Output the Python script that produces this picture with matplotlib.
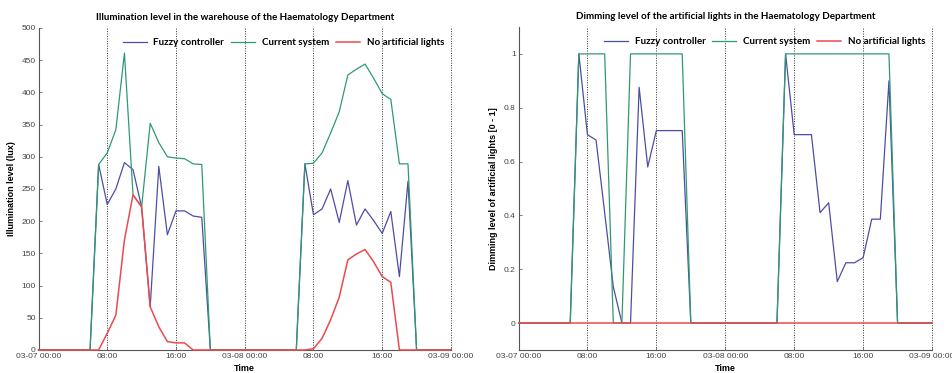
import matplotlib
matplotlib.use("Agg")
import matplotlib.pyplot as plt
import numpy as np

# hours since 03-07 00:00, hourly samples
hours = list(range(49))

tick_pos = [0, 8, 16, 24, 32, 40, 48]
tick_labels = ["03-07 00:00", "08:00", "16:00", "03-08 00:00",
               "08:00", "16:00", "03-09 00:00"]
series_names = ["Fuzzy controller", "Current system", "No artificial lights"]

# illumination (lux)
lux_fuzzy = [0, 0, 0, 0, 0, 0, 0, 288, 226, 250, 291, 280, 222, 67, 285, 179,
             216, 216, 208, 206, 0, 0, 0, 0,
             0, 0, 0, 0, 0, 0, 0, 289, 210, 219, 250, 198, 263, 194, 219, 201,
             181, 215, 114, 262, 0, 0, 0, 0, 0]
lux_current = [0, 0, 0, 0, 0, 0, 0, 288, 306, 342, 461, 241, 222, 352, 322, 300,
               298, 297, 289, 288, 0, 0, 0, 0,
               0, 0, 0, 0, 0, 0, 0, 289, 290, 306, 337, 370, 427, 436, 444, 422,
               398, 389, 289, 289, 0, 0, 0, 0, 0]
lux_natural = [0, 0, 0, 0, 0, 0, 0, 0, 26, 54, 171, 241, 222, 67, 36, 13,
               11, 11, 0, 0, 0, 0, 0, 0,
               0, 0, 0, 0, 0, 0, 0, 0, 2, 18, 47, 82, 140, 149, 156, 137,
               114, 105, 0, 0, 0, 0, 0, 0, 0]

# dimming level [0 - 1]
dim_fuzzy = [0, 0, 0, 0, 0, 0, 0, 1, 0.70, 0.68, 0.41, 0.135, 0, 0, 0.876, 0.58,
             0.715, 0.715, 0.715, 0.715, 0, 0, 0, 0,
             0, 0, 0, 0, 0, 0, 0, 1, 0.70, 0.70, 0.70, 0.41, 0.447, 0.154, 0.224, 0.224,
             0.243, 0.386, 0.386, 0.90, 0, 0, 0, 0, 0]
dim_current = [0, 0, 0, 0, 0, 0, 0, 1, 1, 1, 1, 0, 0, 1, 1, 1,
               1, 1, 1, 1, 0, 0, 0, 0,
               0, 0, 0, 0, 0, 0, 0, 1, 1, 1, 1, 1, 1, 1, 1, 1,
               1, 1, 1, 1, 0, 0, 0, 0, 0]
dim_natural = [0] * 49

colors = ["#4d4da6", "#2f9a70", "#ec4a4e"]
title_font = ["Lato", "DejaVu Sans"]
tick_font = ["Liberation Sans", "DejaVu Sans"]


def draw_panel(ax, ys, ylim, yticks, yticklabels, title, ylabel):
    for x in tick_pos[1:]:
        ax.axvline(x, color="#333333", ls=(0, (1, 1.5)), lw=0.7, zorder=1,
                   clip_on=False)
    for i, (y, c, name) in enumerate(zip(ys, colors, series_names)):
        ax.plot(hours, y, color=c, lw=1.1 if i == 2 else 0.9, label=name,
                zorder=2 + i, clip_on=False)
    ax.set_xlim(0, 48)
    ax.set_ylim(*ylim)
    ax.set_xticks(tick_pos)
    ax.set_xticklabels(tick_labels, family=tick_font, fontsize=6, color="#444444")
    ax.set_yticks(yticks)
    ax.set_yticklabels(yticklabels, family=tick_font, fontsize=6, color="#444444")
    ax.tick_params(direction="in", length=2.5, width=0.6, colors="#666666",
                   labelcolor="#444444", pad=2)
    for s in ["top", "right"]:
        ax.spines[s].set_visible(False)
    for s in ["left", "bottom"]:
        ax.spines[s].set_color("#555555")
        ax.spines[s].set_linewidth(0.8)
    ax.set_title(title, family=title_font, fontsize=7.1, fontweight="bold", pad=6)
    ax.set_xlabel("Time", family=tick_font, fontsize=6.5, fontweight="bold", labelpad=3)
    ax.set_ylabel(ylabel, family=tick_font, fontsize=6.5, fontweight="bold", labelpad=4)
    ax.legend(loc="upper right", ncol=3, frameon=False, handlelength=2.4,
              columnspacing=0.7, handletextpad=0.7, borderaxespad=0.3,
              bbox_to_anchor=(1.0, 0.99),
              prop={"family": title_font, "size": 7.1, "weight": "bold"})


fig = plt.figure(figsize=(9.53, 3.73), dpi=100)
ax1 = fig.add_axes([0.0404, 0.0617, 0.4328, 0.8633])
ax2 = fig.add_axes([0.5441, 0.0617, 0.4339, 0.866])

draw_panel(ax1, [lux_fuzzy, lux_current, lux_natural], (0, 500),
           list(range(0, 501, 50)), [str(v) for v in range(0, 501, 50)],
           "Illumination level in the warehouse of the Haematology Department",
           "Illumination level (lux)")
draw_panel(ax2, [dim_fuzzy, dim_current, dim_natural], (-0.1, 1.1),
           [0, 0.2, 0.4, 0.6, 0.8, 1], ["0", "0.2", "0.4", "0.6", "0.8", "1"],
           "Dimming level of the artificial lights in the Haematology Department",
           "Dimming level of artificial lights [0 - 1]")

fig.savefig("out.png", dpi=100)
